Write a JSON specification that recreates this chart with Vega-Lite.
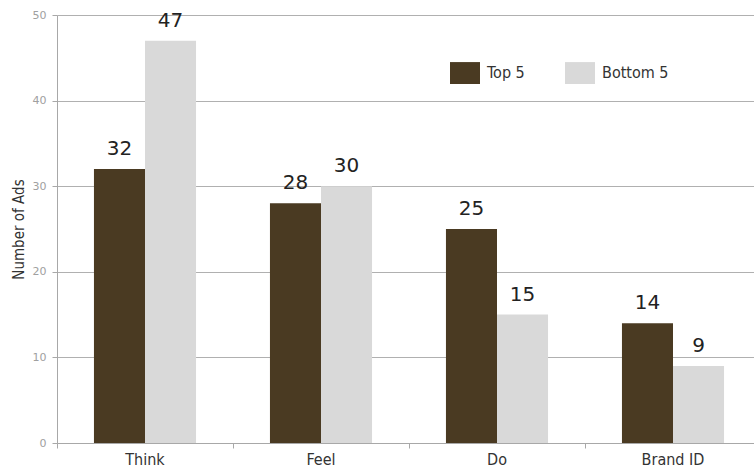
{
  "$schema": "https://vega.github.io/schema/vega-lite/v6.json",
  "width": 704,
  "height": 428,
  "autosize": {"type": "none"},
  "padding": {"left": 57, "top": 15, "right": 0, "bottom": 27},
  "background": "white",
  "config": {"view": {"stroke": null}},
  "data": {
    "values": [
      {"category": "Think", "group": "Top 5", "value": 32},
      {"category": "Think", "group": "Bottom 5", "value": 47},
      {"category": "Feel", "group": "Top 5", "value": 28},
      {"category": "Feel", "group": "Bottom 5", "value": 30},
      {"category": "Do", "group": "Top 5", "value": 25},
      {"category": "Do", "group": "Bottom 5", "value": 15},
      {"category": "Brand ID", "group": "Top 5", "value": 14},
      {"category": "Brand ID", "group": "Bottom 5", "value": 9}
    ]
  },
  "encoding": {
    "xOffset": {"field": "group", "type": "nominal", "sort": ["Top 5", "Bottom 5"]},
    "y": {
      "field": "value",
      "type": "quantitative",
      "scale": {"domain": [0, 50], "nice": false},
      "axis": {
        "values": [0, 10, 20, 30, 40, 50],
        "title": "Number of Ads",
        "titleFont": "DejaVu Sans Condensed, Open Sans, sans-serif",
        "titleFontSize": 15,
        "titleFontWeight": "normal",
        "titleColor": "#333333",
        "titleAngle": -90,
        "titleAlign": "center",
        "titleBaseline": "middle",
        "titleX": -39,
        "titleY": 214,
        "labelFont": "DejaVu Sans",
        "labelFontSize": 11,
        "labelColor": "#a0a0a0",
        "labelPadding": 6,
        "tickSize": 5,
        "tickColor": "#a8a8a8",
        "domainColor": "#a8a8a8",
        "gridColor": "#b0b0b0",
        "gridWidth": 1
      }
    }
  },
  "layer": [
    {
      "mark": {"type": "bar"},
      "encoding": {
        "x": {
          "field": "category",
          "type": "nominal",
          "sort": ["Think", "Feel", "Do", "Brand ID"],
          "scale": {"paddingInner": 0.42, "paddingOuter": 0.21},
          "axis": {
            "title": null,
            "labelAngle": 0,
            "labelFont": "DejaVu Sans Condensed, Open Sans, sans-serif",
            "labelFontSize": 16,
            "labelColor": "#333333",
            "labelPadding": 8,
            "ticks": false,
            "tickSize": 0,
            "domainColor": "#a8a8a8",
            "orient": "bottom"
          }
        },
        "color": {
          "field": "group",
          "type": "nominal",
          "scale": {"domain": ["Top 5", "Bottom 5"], "range": ["#4a3a22", "#d9d9d9"]},
          "legend": {
            "title": null,
            "orient": "none",
            "legendX": 393,
            "legendY": 43,
            "direction": "horizontal",
            "symbolType": "M-1,-0.73H1V0.73H-1Z",
            "symbolSize": 900,
            "symbolStrokeWidth": 0,
            "symbolOpacity": 1,
            "labelFont": "DejaVu Sans Condensed, Open Sans, sans-serif",
            "labelFontSize": 16,
            "labelColor": "#333333",
            "labelOffset": 7,
            "columnPadding": 40,
            "padding": 0
          }
        }
      }
    },
    {
      "mark": {"type": "text", "baseline": "alphabetic", "dy": -14, "font": "DejaVu Sans", "fontSize": 20, "color": "#222222"},
      "encoding": {
        "x": {
          "field": "category",
          "type": "nominal",
          "sort": ["Think", "Feel", "Do", "Brand ID"],
          "scale": {"paddingInner": 0.42, "paddingOuter": 0.21},
          "axis": {
            "title": null,
            "labels": false,
            "domain": false,
            "ticks": true,
            "tickSize": 5,
            "tickColor": "#a8a8a8",
            "bandPosition": -0.36,
            "orient": "bottom",
            "offset": 0
          }
        },
        "text": {"field": "value", "type": "quantitative"}
      }
    }
  ],
  "resolve": {"axis": {"x": "independent"}}
}
